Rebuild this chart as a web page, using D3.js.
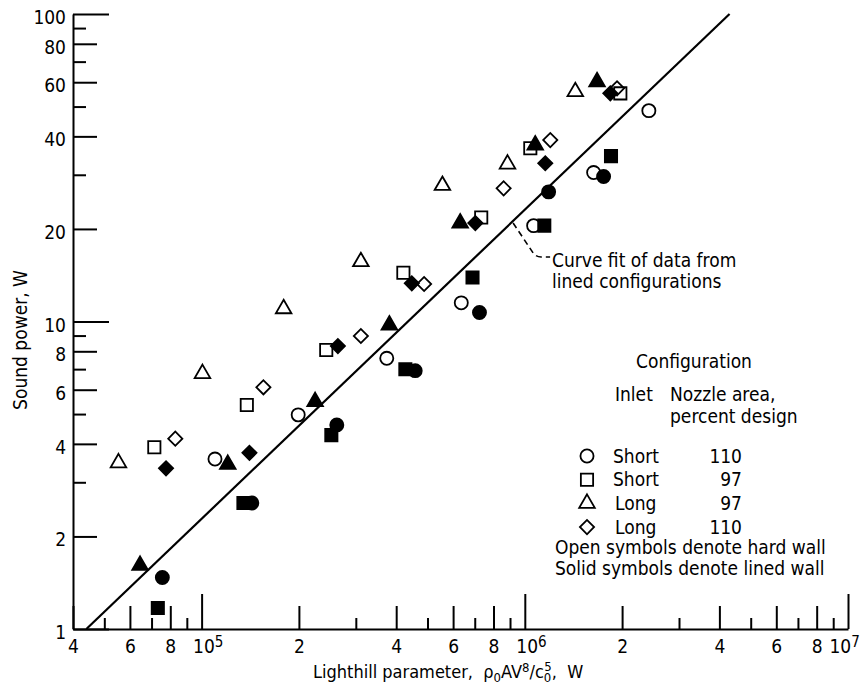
<!DOCTYPE html>
<html>
<head>
<meta charset="utf-8">
<script src="https://cdn.jsdelivr.net/npm/d3@7"></script>
<style>
  body { margin: 0; background: #fff; }
  svg { font-family: "Liberation Sans Narrow", "DejaVu Sans Condensed", "Arial Narrow", sans-serif; }
</style>
</head>
<body>
<svg id="chart" width="861" height="688"></svg>
<script>
// values: [Lighthill parameter (W), sound power (W)]
var shortHard    = [[1.10e5,3.57],[1.99e5,4.97],[3.74e5,7.59],[6.36e5,11.5],[1.065e6,20.5],[1.633e6,30.5],[2.42e6,48.5]];
var shortLined   = [[7.56e4,1.47],[1.43e5,2.57],[2.62e5,4.61],[4.58e5,6.92],[7.24e5,10.7],[1.185e6,26.4],[1.753e6,29.6]];
var short97Hard  = [[7.14e4,3.90],[1.38e5,5.35],[2.43e5,8.08],[4.21e5,14.4],[7.33e5,21.8],[1.04e6,36.6],[1.975e6,55.2]];
var short97Lined = [[7.32e4,1.17],[1.347e5,2.57],[2.52e5,4.27],[4.27e5,6.99],[6.89e5,13.9],[1.149e6,20.5],[1.848e6,34.5]];
var long97Hard   = [[5.53e4,3.47],[1.006e5,6.77],[1.794e5,11.0],[3.11e5,15.65],[5.56e5,27.7],[8.84e5,32.5],[1.433e6,55.9]];
var long97Lined  = [[6.45e4,1.61],[1.205e5,3.43],[2.245e5,5.49],[3.81e5,9.74],[6.31e5,20.9],[1.077e6,37.5],[1.673e6,60.2]];
var long110Hard  = [[8.29e4,4.16],[1.553e5,6.11],[3.11e5,8.97],[4.88e5,13.24],[8.6e5,27.1],[1.199e6,38.9],[1.929e6,57.3]];
var long110Lined = [[7.76e4,3.33],[1.406e5,3.74],[2.64e5,8.32],[4.47e5,13.31],[7.03e5,20.9],[1.157e6,32.7],[1.839e6,55.2]];

// curve fit (lined configurations)
var fitLine = [[4.4e4,1],[4.3e6,100]];
var annotAt = 9.2e5;

var legendShape  = ["circle","square","triangle","diamond"];
var legendInlet  = ["Short","Short","Long","Long"];
var legendNozzle = ["110","97","97","110"];

var width = 861, height = 688;

var svg = d3.select("#chart");

var x = d3.scaleLog().domain([4e4, 1e7]).range([73, 848]);
var y = d3.scaleLog().domain([1, 100]).range([629, 14]);

function mant(v) {
  return Math.round(v / Math.pow(10, Math.floor(Math.log10(v) + 1e-9)));
}

var xTicks = x.ticks();
var yTicks = y.ticks();

// ---- y axis (ticks point into the plot) ----
var yDec  = yTicks.filter(d => mant(d) == 1);
var yEven = yTicks.filter(d => mant(d) % 2 == 0);
var yOdd  = yTicks.filter(d => mant(d) != 1 && mant(d) % 2 == 1);

function styleAxis(g) {
  g.attr("font-family", null).attr("font-size", null);
  g.selectAll("line").attr("stroke", "#000").attr("stroke-width", 2);
  g.selectAll("text").attr("font-size", 19).attr("fill", "#000");
}

svg.append("g").attr("transform", "translate(73,0)")
  .call(d3.axisLeft(y).tickValues(yDec).tickSize(-36).tickSizeOuter(0).tickPadding(7).tickFormat(d => d))
  .call(styleAxis)
  .call(g => g.select(".domain").attr("stroke", "#000").attr("stroke-width", 2))
  .call(g => g.selectAll("text").attr("dy", "0.5em"));

svg.append("g").attr("transform", "translate(73,0)")
  .call(d3.axisLeft(y).tickValues(yEven).tickSize(-24).tickPadding(7).tickFormat(d => d))
  .call(styleAxis)
  .call(g => g.select(".domain").remove())
  .call(g => g.selectAll("text").attr("dy", "0.5em"));

svg.append("g").attr("transform", "translate(73,0)")
  .call(d3.axisLeft(y).tickValues(yOdd).tickSize(-13).tickFormat(""))
  .call(styleAxis)
  .call(g => g.select(".domain").remove());

// ---- x axis ----
var xDec  = xTicks.filter(d => mant(d) == 1);
var xEven = xTicks.filter(d => mant(d) % 2 == 0);
var xOdd  = xTicks.filter(d => mant(d) != 1 && mant(d) % 2 == 1);

svg.append("g").attr("transform", "translate(0,629)")
  .call(d3.axisBottom(x).tickValues(xDec).tickSize(-35).tickSizeOuter(0).tickPadding(11).tickFormat(""))
  .call(styleAxis)
  .call(g => g.select(".domain").attr("stroke", "#000").attr("stroke-width", 2))
  .call(g => g.selectAll("text").each(function (d) {
    var t = d3.select(this)
      .attr("text-anchor", "start")
      .attr("x", d === x.domain()[1] ? -19 : -9);
    t.append("tspan").text("10");
    t.append("tspan").attr("dy", "-0.45em").attr("font-size", 15).text(Math.round(Math.log10(d)));
  }));

svg.append("g").attr("transform", "translate(0,629)")
  .call(d3.axisBottom(x).tickValues(xEven).tickSize(-23).tickPadding(11).tickFormat(d => mant(d)))
  .call(styleAxis)
  .call(g => g.select(".domain").remove());

svg.append("g").attr("transform", "translate(0,629)")
  .call(d3.axisBottom(x).tickValues(xOdd).tickSize(-11).tickFormat(""))
  .call(styleAxis)
  .call(g => g.select(".domain").remove());

// ---- axis titles ----
svg.append("text")
  .attr("transform", "translate(20,340) rotate(-90)")
  .attr("text-anchor", "middle")
  .attr("dy", "0.35em")
  .attr("font-size", 19)
  .text("Sound power, W");

var xt = svg.append("text").attr("x", 313).attr("y", 678).attr("font-size", 18);
xt.append("tspan").text("Lighthill parameter,\u00a0\u00a0\u03c1");
xt.append("tspan").attr("dy", 4).attr("font-size", 13).text("0");
xt.append("tspan").attr("dy", -4).text("AV");
xt.append("tspan").attr("dy", -6).attr("font-size", 13).text("8");
xt.append("tspan").attr("dy", 6).text("/c");
xt.append("tspan").attr("dy", 4).attr("font-size", 13).text("0");
xt.append("tspan").attr("dy", -11).attr("dx", -7).attr("font-size", 13).text("5");
xt.append("tspan").attr("dy", 7).text(",\u00a0\u00a0W");

// ---- curve fit ----
var line = d3.line().x(d => x(d[0])).y(d => y(d[1]));
svg.append("path")
  .datum(fitLine)
  .attr("d", line)
  .attr("fill", "none")
  .attr("stroke", "#000")
  .attr("stroke-width", 2.2);

// leader from the fit line to its note
var k = (Math.log10(fitLine[1][1]) - Math.log10(fitLine[0][1])) /
        (Math.log10(fitLine[1][0]) - Math.log10(fitLine[0][0]));
var annotY = Math.pow(10, Math.log10(fitLine[0][1]) + k * (Math.log10(annotAt) - Math.log10(fitLine[0][0])));
var ax = x(annotAt), ay = y(annotY);
svg.append("path")
  .attr("d", `M${ax},${ay + 2} L${ax + 20},${ay + 32} Q${ax + 23},${ay + 36} ${ax + 28},${ay + 36} L${ax + 37},${ay + 36}`)
  .attr("fill", "none")
  .attr("stroke", "#000")
  .attr("stroke-width", 1.6)
  .attr("stroke-dasharray", "6,4");

svg.append("text").attr("x", 552).attr("y", 267).attr("font-size", 19).text("Curve fit of data from");
svg.append("text").attr("x", 552).attr("y", 288).attr("font-size", 19).text("lined configurations");

// ---- markers ----
function shape(name) {
  if (name == "circle") return d3.symbol(d3.symbolCircle, 135)();
  if (name == "square") return d3.symbol(d3.symbolSquare, 150)();
  if (name == "triangle") return d3.symbol(d3.symbolTriangle, 105)();
  return d3.symbol(d3.symbolSquare, 100)();
}

function drawSeries(data, name, filled) {
  svg.append("g").selectAll("path")
    .data(data)
    .join("path")
    .attr("d", shape(name))
    .attr("transform", d => `translate(${x(d[0])},${y(d[1])})` + (name == "diamond" ? " rotate(45)" : ""))
    .attr("fill", filled ? "#000" : "none")
    .attr("stroke", "#000")
    .attr("stroke-width", 1.8);
}

drawSeries(shortHard, "circle", false);
drawSeries(short97Hard, "square", false);
drawSeries(long97Hard, "triangle", false);
drawSeries(long110Hard, "diamond", false);
drawSeries(shortLined, "circle", true);
drawSeries(short97Lined, "square", true);
drawSeries(long97Lined, "triangle", true);
drawSeries(long110Lined, "diamond", true);

// ---- legend ----
var lg = svg.append("g").attr("font-size", 19);
lg.append("text").attr("x", 636).attr("y", 368).text("Configuration");
lg.append("text").attr("x", 615).attr("y", 401).text("Inlet");
lg.append("text").attr("x", 670).attr("y", 401).text("Nozzle area,");
lg.append("text").attr("x", 670).attr("y", 423).text("percent design");

var rows = lg.selectAll("g.row")
  .data(legendShape)
  .join("g")
  .attr("class", "row")
  .attr("transform", (d, i) => `translate(0,${456 + i * 23.7})`);

rows.append("path")
  .attr("d", d => shape(d))
  .attr("transform", d => "translate(587,0)" + (d == "diamond" ? " rotate(45)" : ""))
  .attr("fill", "none")
  .attr("stroke", "#000")
  .attr("stroke-width", 1.8);

rows.append("text").attr("x", (d, i) => i < 2 ? 613 : 615).attr("dy", "0.35em").text((d, i) => legendInlet[i]);
rows.append("text").attr("x", 742).attr("text-anchor", "end").attr("dy", "0.35em").text((d, i) => legendNozzle[i]);

lg.append("text").attr("x", 555).attr("y", 554).text("Open symbols denote hard wall");
lg.append("text").attr("x", 555).attr("y", 575).text("Solid symbols denote lined wall");
</script>
</body>
</html>
